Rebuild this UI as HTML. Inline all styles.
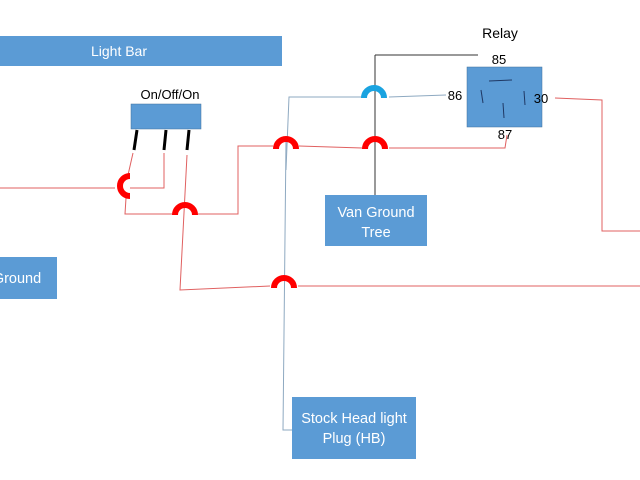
<!DOCTYPE html>
<html><head><meta charset="utf-8"><style>
html,body{margin:0;padding:0;background:#fff;width:640px;height:480px;overflow:hidden}
svg{display:block}
text{font-family:"Liberation Sans",sans-serif}
</style></head><body>
<svg width="640" height="480" viewBox="0 0 640 480" xmlns="http://www.w3.org/2000/svg">
<rect width="640" height="480" fill="#fff"/>
<rect x="0" y="36" width="282" height="30" fill="#5b9bd5"/>
<text x="119" y="56" font-size="14" fill="#fff" text-anchor="middle">Light Bar</text>
<rect x="131" y="104" width="70" height="25" fill="#5b9bd5" stroke="#41719c" stroke-width="0.5"/>
<text x="170" y="99" font-size="13" fill="#000" text-anchor="middle">On/Off/On</text>
<rect x="467" y="67" width="75" height="60" fill="#5b9bd5" stroke="#41719c" stroke-width="0.5"/>
<text x="500" y="38" font-size="14" fill="#000" text-anchor="middle">Relay</text>
<text x="499" y="64" font-size="13" fill="#000" text-anchor="middle">85</text>
<text x="455" y="100" font-size="13" fill="#000" text-anchor="middle">86</text>
<text x="541" y="103" font-size="13" fill="#000" text-anchor="middle">30</text>
<text x="505" y="139" font-size="13" fill="#000" text-anchor="middle">87</text>
<g stroke="#1f3864" stroke-width="1">
<line x1="489" y1="81" x2="512" y2="80"/>
<line x1="481" y1="90" x2="483" y2="103"/>
<line x1="524" y1="91" x2="525" y2="105"/>
<line x1="503" y1="103" x2="504" y2="118"/>
</g>
<rect x="325" y="195" width="102" height="51" fill="#5b9bd5"/>
<text x="376" y="217" font-size="14.5" fill="#fff" text-anchor="middle">Van Ground</text>
<text x="376" y="237" font-size="14.5" fill="#fff" text-anchor="middle">Tree</text>
<rect x="0" y="257" width="57" height="42" fill="#5b9bd5"/>
<text x="17" y="283" font-size="14.5" fill="#fff" text-anchor="middle">Ground</text>
<rect x="292" y="397" width="124" height="62" fill="#5b9bd5"/>
<text x="354" y="423" font-size="14.5" fill="#fff" text-anchor="middle">Stock Head light</text>
<text x="354" y="443" font-size="14.5" fill="#fff" text-anchor="middle">Plug (HB)</text>
<g stroke="#000" stroke-width="3">
<line x1="137" y1="130" x2="134" y2="150"/>
<line x1="166" y1="130" x2="164" y2="150"/>
<line x1="189" y1="130" x2="187" y2="150"/>
</g>
<g fill="none" stroke="#333" stroke-width="1">
<polyline points="375,55 478,55"/>
<line x1="375" y1="55" x2="375" y2="195"/>
</g>
<g fill="none" stroke="#8ea9c1" stroke-width="1">
<polyline points="362,97 289,97 286,170"/>
<polyline points="286,140 283,430 292,430"/>
<polyline points="389,97 446,95"/>
</g>
<g fill="none" stroke="#e06060" stroke-width="1">
<polyline points="0,188 115,188"/>
<polyline points="133,153 128,175"/>
<polyline points="126,198 125,214 172,214"/>
<polyline points="164,153 164,188 130,188"/>
<polyline points="198,214 238,214 238,146 273,146"/>
<polyline points="299,146 362,148"/>
<polyline points="389,148 505,148 507,135"/>
<polyline points="187,155 180,290 270,286"/>
<polyline points="298,286 640,286"/>
<polyline points="555,98 602,100 602,231 640,231"/>
</g>
<g fill="none" stroke-width="6">
<path d="M130,176 A10,10 0 0 0 130,196" stroke="#f00"/>
<path d="M175,215 A10,10 0 0 1 195,215" stroke="#f00"/>
<path d="M276,149 A10,10 0 0 1 296,149" stroke="#f00"/>
<path d="M365,149 A10,10 0 0 1 385,149" stroke="#f00"/>
<path d="M274,288 A10,10 0 0 1 294,288" stroke="#f00"/>
<path d="M364,98 A10,10 0 0 1 384,98" stroke="#1aa3e0"/>
</g>
</svg>
</body></html>
